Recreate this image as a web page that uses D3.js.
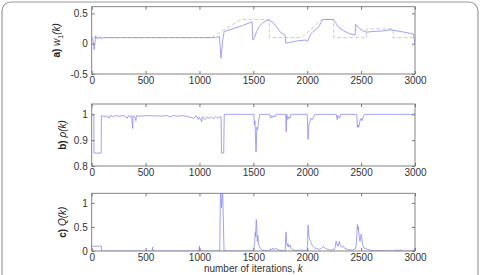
<!DOCTYPE html>
<html>
<head>
<meta charset="utf-8">
<script src="https://cdn.jsdelivr.net/npm/d3@7"></script>
<style>
  body { margin: 0; background: #fff; }
  text { font-family: "Liberation Sans", Arial, sans-serif; }
</style>
</head>
<body>
<div id="main"></div>
<script>
var xTicks = [0, 500, 1000, 1500, 2000, 2500, 3000]

// reference w1 (dashed)
var w1Ref = [[0, 0.1], [1110, 0.1], [1385, 0.4], [1648, 0.4], [1648, 0.1], [1950, 0.1], [2135, 0.4],
  [2245, 0.4], [2245, 0.1], [2551, 0.1], [2551, 0.245], [2798, 0.245], [2798, 0.1], [3000, 0.1]]

// estimated w1 (blue)
var w1Est = [[0, 0.1], [12, 0.06], [24, -0.1], [37, 0.13], [50, 0.08], [70, 0.1], [90, 0.09], [120, 0.1],
  [1150, 0.1], [1185, 0.12], [1200, -0.24], [1215, 0.05], [1229, 0.2], [1300, 0.24], [1400, 0.3],
  [1488, 0.36], [1495, 0.06], [1510, 0.1], [1530, 0.2], [1560, 0.3], [1600, 0.36], [1640, 0.39],
  [1680, 0.35], [1720, 0.27], [1750, 0.19], [1795, 0.14], [1800, 0.01], [1830, 0.02], [1860, 0.03],
  [1920, 0.05], [1990, 0.06], [2003, 0.035], [2030, 0.15], [2052, 0.2], [2090, 0.245], [2110, 0.29],
  [2145, 0.4], [2240, 0.4], [2262, 0.35], [2290, 0.27], [2340, 0.21], [2385, 0.17], [2444, 0.14],
  [2450, 0.32], [2480, 0.26], [2520, 0.21], [2552, 0.19], [2600, 0.2], [2700, 0.21], [2770, 0.23],
  [2800, 0.22], [2900, 0.19], [2985, 0.16], [3000, 0.0]]

var rho = [[0, 1], [20, 1], [21, 0.85], [88, 0.85], [90, 0.995], [100, 0.993], [130, 0.99], [140, 0.995],
  [160, 0.985], [170, 0.995], [200, 0.99], [215, 0.995], [250, 0.993], [300, 0.995], [330, 0.985],
  [340, 0.995], [360, 0.99], [370, 0.995], [380, 0.945], [385, 0.995], [400, 0.99], [410, 0.975],
  [415, 0.995], [450, 0.993], [500, 0.995], [600, 0.994], [650, 0.993], [700, 0.995], [730, 0.99],
  [750, 0.995], [800, 0.993], [850, 0.995], [900, 0.99], [950, 0.985], [970, 0.995], [990, 0.98],
  [1000, 0.99], [1020, 0.972], [1030, 0.99], [1050, 0.98], [1070, 0.99], [1090, 0.985], [1110, 0.99],
  [1130, 0.982], [1150, 0.992], [1170, 0.985], [1190, 0.99], [1200, 0.99], [1205, 0.85], [1225, 0.85],
  [1230, 1.0], [1505, 1.0], [1510, 0.96], [1515, 0.975], [1525, 0.855], [1532, 0.95], [1540, 0.94],
  [1548, 0.97], [1555, 0.99], [1560, 1.0], [1650, 1.0], [1660, 0.985], [1670, 0.995], [1680, 0.988],
  [1690, 0.995], [1700, 0.99], [1710, 1.0], [1800, 1.0], [1805, 0.933], [1810, 1.0], [1820, 0.98],
  [1830, 0.99], [1840, 0.985], [1850, 1.0], [2000, 1.0], [2008, 0.903], [2015, 0.96], [2025, 0.97],
  [2035, 0.985], [2045, 0.98], [2060, 0.99], [2070, 1.0], [2270, 1.0], [2278, 0.98], [2285, 0.995],
  [2300, 0.985], [2310, 1.0], [2460, 1.0], [2465, 0.95], [2472, 0.96], [2478, 0.95], [2490, 0.975],
  [2500, 0.985], [2510, 0.975], [2520, 0.99], [2530, 1.0], [2985, 1.0], [2990, 1.003], [3000, 1.003]]

var q = [[0, 0.1], [90, 0.1], [92, 0], [560, 0], [565, 0.08], [570, 0], [995, 0], [1000, 0.1], [1005, 0],
  [1188, 0], [1195, 1.3], [1205, 0.9], [1215, 1.3], [1228, 0], [1500, 0], [1505, 0.05], [1512, 0.2],
  [1518, 0.4], [1522, 0.3], [1527, 0.655], [1532, 0.5], [1537, 0.2], [1542, 0.32], [1548, 0.15],
  [1555, 0.1], [1565, 0.05], [1580, 0.02], [1600, 0.01], [1650, 0.005], [1660, 0.05], [1670, 0.02],
  [1680, 0.06], [1690, 0.03], [1700, 0.05], [1720, 0.04], [1740, 0.02], [1760, 0.01], [1795, 0],
  [1803, 0.39], [1808, 0.2], [1815, 0.1], [1822, 0.15], [1830, 0.08], [1840, 0.12], [1850, 0.05],
  [1870, 0.02], [1900, 0.01], [1950, 0.02], [2000, 0], [2008, 0.54], [2015, 0.3], [2022, 0.25],
  [2030, 0.2], [2040, 0.15], [2050, 0.1], [2060, 0.08], [2075, 0.05], [2090, 0.06], [2110, 0.03],
  [2130, 0.05], [2150, 0.1], [2165, 0.06], [2180, 0.04], [2200, 0.03], [2220, 0.02], [2250, 0.03],
  [2262, 0.1], [2268, 0.21], [2275, 0.15], [2285, 0.1], [2298, 0.2], [2305, 0.12], [2320, 0.08],
  [2335, 0.1], [2350, 0.05], [2380, 0.03], [2420, 0.02], [2450, 0.05], [2460, 0.3], [2465, 0.55],
  [2470, 0.45], [2475, 0.5], [2482, 0.3], [2490, 0.2], [2500, 0.35], [2505, 0.3], [2512, 0.15],
  [2520, 0.1], [2530, 0.05], [2545, 0.06], [2560, 0.03], [2580, 0.02], [2600, 0.01], [2800, 0],
  [2820, 0.02], [2850, 0.01], [2870, 0.02], [2890, 0], [2990, 0], [2995, 0.05], [3000, 0.05]]

var W = 481, H = 275
var left = 91.7, right = 415

var svg = d3.select('#main')
  .append('svg')
  .attr('width', W)
  .attr('height', H)

// figure frame
svg.append('rect')
  .attr('x', 2).attr('y', 2)
  .attr('width', 476).attr('height', 300)
  .attr('rx', 9)
  .attr('fill', 'none')
  .attr('stroke', '#999')
  .attr('stroke-width', 1.2)

var x = d3.scaleLinear().domain([0, 3000]).range([left, right])

var panels = [
  { id: 'a', top: 6.7, bottom: 74, domain: [-0.5, 0.61], ticks: [-0.5, 0, 0.5], fmt: d => d === 0 ? '0' : String(d),
    lines: [{ data: w1Ref, color: '#bcc7b0', dash: '4,2' }, { data: w1Est, color: '#8a8af4' }],
    label: ['a) ', 'w', '1', '(k)'], labelX: 60 },
  { id: 'b', top: 104, bottom: 166, domain: [0.8, 1.04], ticks: [0.8, 0.9, 1], fmt: d => d === 1 ? '1' : String(d),
    lines: [{ data: rho, color: '#8a8af4' }],
    label: ['b) ', 'ρ', '', '(k)'], labelX: 66 },
  { id: 'c', top: 193.3, bottom: 251, domain: [0, 1.2], ticks: [0, 0.5, 1], fmt: d => String(d),
    lines: [{ data: q, color: '#8a8af4' }],
    label: ['c) ', 'Q', '', '(k)'], labelX: 66 }
]

panels.forEach(function (p) {
  var y = d3.scaleLinear().domain(p.domain).range([p.bottom, p.top])
  var g = svg.append('g')

  g.append('clipPath').attr('id', 'clip-' + p.id)
    .append('rect')
    .attr('x', left).attr('y', p.top)
    .attr('width', right - left).attr('height', p.bottom - p.top)

  var line = d3.line().x(_ => x(_[0])).y(_ => y(_[1]))
  p.lines.forEach(function (l) {
    g.append('path')
      .attr('d', line(l.data))
      .attr('fill', 'none')
      .attr('stroke', l.color)
      .attr('stroke-width', 0.8)
      .attr('stroke-dasharray', l.dash || null)
      .attr('clip-path', 'url(#clip-' + p.id + ')')
  })

  var bottomAxis = d3.axisBottom(x).tickValues(xTicks).tickSize(-3).tickPadding(3).tickFormat(d3.format('d'))
  var topAxis = d3.axisTop(x).tickValues(xTicks).tickSize(-3).tickFormat('')
  var leftAxis = d3.axisLeft(y).tickValues(p.ticks).tickSize(-3).tickPadding(4).tickFormat(p.fmt)
  var rightAxis = d3.axisRight(y).tickValues(p.ticks).tickSize(-3).tickFormat('')

  var axes = [
    [bottomAxis, `translate(0, ${p.bottom})`],
    [topAxis, `translate(0, ${p.top})`],
    [leftAxis, `translate(${left}, 0)`],
    [rightAxis, `translate(${right}, 0)`]
  ]
  axes.forEach(function (a) {
    var ag = g.append('g').attr('transform', a[1]).call(a[0])
    ag.select('.domain').remove()
    ag.selectAll('line').attr('stroke', '#777')
    ag.selectAll('text').attr('fill', '#333').style('font-size', '10px')
  })

  g.append('rect')
    .attr('x', left).attr('y', p.top)
    .attr('width', right - left).attr('height', p.bottom - p.top)
    .attr('fill', 'none')
    .attr('stroke', '#777')
    .attr('stroke-width', 0.9)

  var t = g.append('text')
    .attr('transform', `translate(${p.labelX}, ${(p.top + p.bottom) / 2}) rotate(-90)`)
    .attr('text-anchor', 'middle')
    .style('font-size', '10px')
    .attr('fill', '#222')
  t.append('tspan').text(p.label[0]).style('font-weight', 'bold')
  t.append('tspan').text(p.label[1]).style('font-style', 'italic')
  if (p.label[2]) t.append('tspan').text(p.label[2]).attr('dy', 3).style('font-size', '7px')
  t.append('tspan').text(p.label[3]).attr('dy', p.label[2] ? -3 : 0).style('font-style', 'italic')
})

var xt = svg.append('text')
  .attr('x', (left + right) / 2)
  .attr('y', 272)
  .attr('text-anchor', 'middle')
  .style('font-size', '10px')
  .attr('fill', '#333')
xt.append('tspan').text('number of iterations, ')
xt.append('tspan').text('k').style('font-style', 'italic')
</script>
</body>
</html>
